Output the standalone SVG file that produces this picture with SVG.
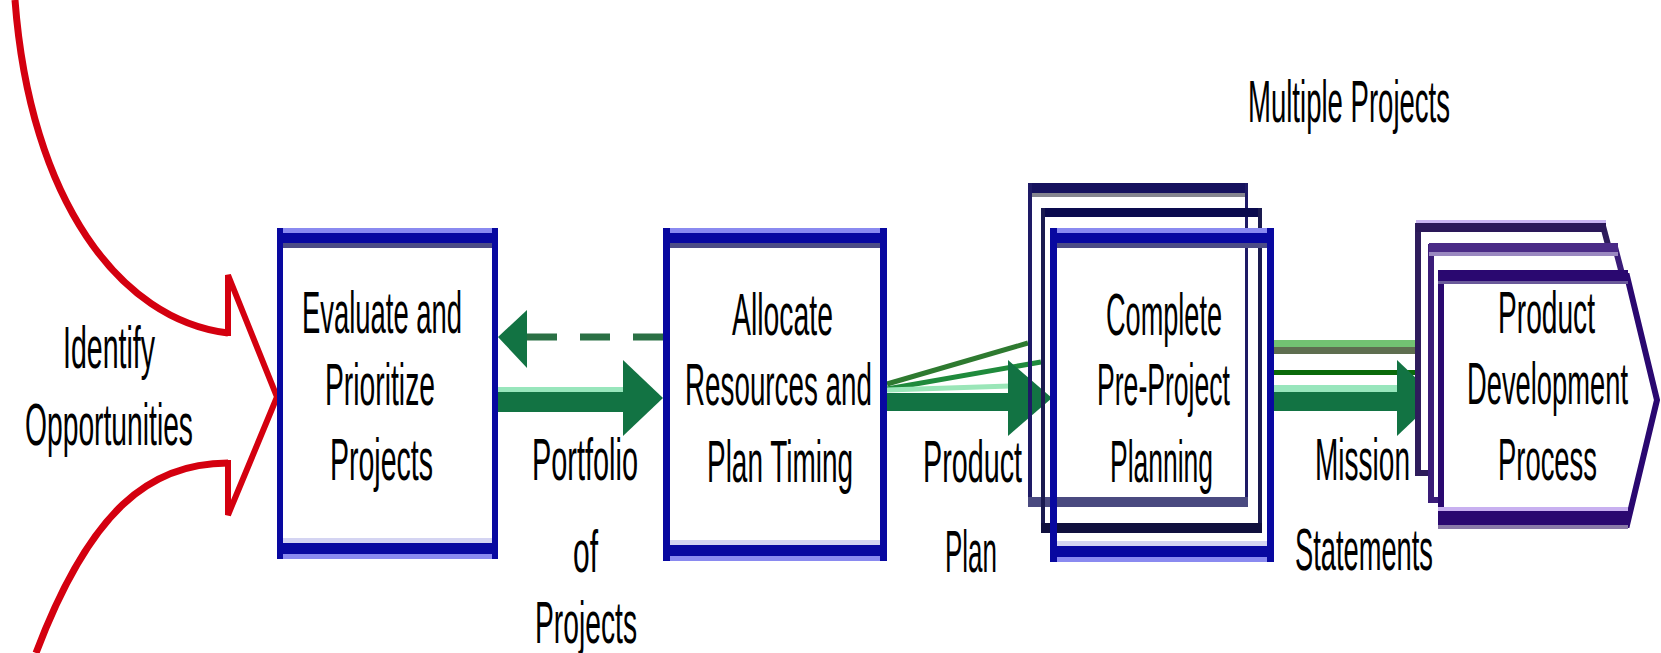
<svg xmlns="http://www.w3.org/2000/svg" width="1661" height="653" viewBox="0 0 1661 653">
<style>
.t{font-family:"Liberation Sans",Arial,sans-serif;font-size:60px;fill:#000;}
.red{fill:none;stroke:#d4000f;stroke-linejoin:miter;stroke-linecap:butt;}
.bd{fill:#0808a0;}
.bl{fill:#8a8af0;}
.bg{fill:#4c4c86;}
.bw{fill:#d4d4f2;}
.gd{fill:#127343;}
.gl{fill:#98e6bc;}
.pent{fill:#fff;stroke-width:6;stroke-linejoin:miter;}
</style>
<rect width="1661" height="653" fill="#fff"/>

<g id="identify">
  <path class="red" stroke-width="7" d="M15,0 C30,200 120,320 228,333"/>
  <path class="red" stroke-width="7" d="M228,463 C150,463 90,510 36,653"/>
  <path class="red" stroke-width="6" d="M228,336 L228,275 L277,397 L228,515 L228,460"/>
  <text class="t" x="63" y="368" textLength="92" lengthAdjust="spacingAndGlyphs">Identify</text>
  <text class="t" x="25" y="445" textLength="168" lengthAdjust="spacingAndGlyphs">Opportunities</text>
</g>

<g id="connectors">
  <!-- dashed feedback -->
  <line x1="527" y1="337" x2="663" y2="337" stroke="#2a7044" stroke-width="7" stroke-dasharray="30 23"/>
  <polygon points="527,310 498,337 527,368" class="gd"/>
  <!-- portfolio arrow -->
  <rect x="498" y="387" width="127" height="5" class="gl"/>
  <rect x="498" y="392" width="127" height="20" class="gd"/>
  <polygon points="623,360 663,398 623,436" class="gd"/>
  <!-- product plan fan -->
  <line x1="887" y1="384" x2="1028" y2="343" stroke="#2e7a30" stroke-width="5"/>
  <line x1="887" y1="389" x2="1041" y2="362" stroke="#1f8a3c" stroke-width="5"/>
  <line x1="887" y1="390" x2="1010" y2="386" stroke="#9ae6b8" stroke-width="5"/>
  <rect x="887" y="393" width="125" height="18" class="gd"/>
  <polygon points="1008,360 1052,398 1008,436" class="gd"/>
  <!-- mission statements -->
  <rect x="1272" y="340" width="144" height="7" fill="#72c272"/>
  <rect x="1272" y="347" width="144" height="7" fill="#5e6e50"/>
  <rect x="1272" y="370" width="157" height="5" fill="#0a6a0a"/>
  <rect x="1272" y="385" width="130" height="7" class="gl"/>
  <rect x="1272" y="392" width="130" height="19" class="gd"/>
  <polygon points="1397,360 1437,398 1397,436" class="gd"/>
</g>

<g id="evaluate">
  <rect x="277" y="228" width="221" height="5" class="bl"/>
  <rect x="277" y="233" width="221" height="10" class="bd"/>
  <rect x="277" y="243" width="221" height="5" class="bg"/>
  <rect x="277" y="538" width="221" height="5" class="bw"/>
  <rect x="277" y="543" width="221" height="11" class="bd"/>
  <rect x="277" y="554" width="221" height="5" class="bl"/>
  <rect x="277" y="228" width="6" height="331" class="bd"/>
  <rect x="492" y="228" width="6" height="331" class="bd"/>
  <text class="t" x="302" y="333" textLength="160" lengthAdjust="spacingAndGlyphs">Evaluate and</text>
  <text class="t" x="325" y="405" textLength="110" lengthAdjust="spacingAndGlyphs">Prioritize</text>
  <text class="t" x="330" y="480" textLength="103" lengthAdjust="spacingAndGlyphs">Projects</text>
</g>

<g id="label-portfolio">
  <text class="t" x="532" y="480" textLength="106" lengthAdjust="spacingAndGlyphs">Portfolio</text>
  <text class="t" x="573" y="572" textLength="25" lengthAdjust="spacingAndGlyphs">of</text>
  <text class="t" x="535" y="643" textLength="102" lengthAdjust="spacingAndGlyphs">Projects</text>
</g>

<g id="allocate">
  <rect x="663" y="228" width="224" height="5" class="bl"/>
  <rect x="663" y="233" width="224" height="10" class="bd"/>
  <rect x="663" y="243" width="224" height="5" class="bg"/>
  <rect x="663" y="540" width="224" height="5" class="bw"/>
  <rect x="663" y="545" width="224" height="11" class="bd"/>
  <rect x="663" y="556" width="224" height="5" class="bl"/>
  <rect x="663" y="228" width="7" height="333" class="bd"/>
  <rect x="880" y="228" width="7" height="333" class="bd"/>
  <text class="t" x="732" y="335" textLength="101" lengthAdjust="spacingAndGlyphs">Allocate</text>
  <text class="t" x="685" y="405" textLength="187" lengthAdjust="spacingAndGlyphs">Resources and</text>
  <text class="t" x="707" y="482" textLength="146" lengthAdjust="spacingAndGlyphs">Plan Timing</text>
</g>

<g id="label-product-plan">
  <text class="t" x="923" y="482" textLength="99" lengthAdjust="spacingAndGlyphs">Product</text>
  <text class="t" x="945" y="572" textLength="52" lengthAdjust="spacingAndGlyphs">Plan</text>
</g>

<g id="label-multiple">
  <text class="t" x="1248" y="122" textLength="202" lengthAdjust="spacingAndGlyphs">Multiple Projects</text>
</g>

<g id="preproject">
  <!-- back box -->
  <rect x="1028" y="183" width="220" height="10" fill="#16125e"/>
  <rect x="1028" y="193" width="220" height="4" fill="#85858f"/>
  <rect x="1028" y="183" width="4" height="324" fill="#1e1a66"/>
  <rect x="1245" y="183" width="3" height="324" fill="#1e1a66"/>
  <rect x="1028" y="497" width="220" height="10" fill="#4a4a80"/>
  <!-- middle box -->
  <rect x="1041" y="208" width="221" height="9" fill="#0a0a4e"/>
  <rect x="1041" y="208" width="4" height="325" fill="#1a1a50"/>
  <rect x="1258" y="208" width="4" height="325" fill="#1a1a50"/>
  <rect x="1041" y="523" width="221" height="10" fill="#10103e"/>
  <!-- front box -->
  <rect x="1050" y="228" width="224" height="5" class="bl"/>
  <rect x="1050" y="233" width="224" height="10" class="bd"/>
  <rect x="1050" y="243" width="224" height="5" class="bg"/>
  <rect x="1050" y="541" width="224" height="5" class="bw"/>
  <rect x="1050" y="546" width="224" height="11" class="bd"/>
  <rect x="1050" y="557" width="224" height="5" class="bl"/>
  <rect x="1050" y="228" width="7" height="334" class="bd"/>
  <rect x="1267" y="228" width="7" height="334" class="bd"/>
  <text class="t" x="1106" y="335" textLength="116" lengthAdjust="spacingAndGlyphs">Complete</text>
  <text class="t" x="1097" y="405" textLength="133" lengthAdjust="spacingAndGlyphs">Pre-Project</text>
  <text class="t" x="1110" y="482" textLength="103" lengthAdjust="spacingAndGlyphs">Planning</text>
</g>

<g id="label-mission">
  <text class="t" x="1315" y="480" textLength="95" lengthAdjust="spacingAndGlyphs">Mission</text>
  <text class="t" x="1295" y="570" textLength="138" lengthAdjust="spacingAndGlyphs">Statements</text>
</g>

<g id="development">
  <polygon class="pent" stroke="#2e1c5c" points="1418,226 1603,226 1636,350 1603,473 1418,473"/>
  <rect x="1416" y="220" width="190" height="3" fill="#c8b4f0"/>
  <rect x="1416" y="223" width="190" height="9" fill="#2a1858"/>
  <polygon class="pent" stroke="#3a1c78" points="1431,247 1615,247 1648,373 1615,500 1431,500"/>
  <rect x="1429" y="243" width="189" height="9" fill="#4a2a86"/>
  <rect x="1429" y="252" width="189" height="4" fill="#9a88c0"/>
  <polygon class="pent" stroke="#2a0870" points="1441,276 1627,276 1657,400 1627,525 1441,525"/>
  <rect x="1438" y="270" width="190" height="11" fill="#2a0870"/>
  <rect x="1438" y="281" width="190" height="3" fill="#6a5a9a"/>
  <rect x="1438" y="507" width="190" height="4" fill="#c8b0f0"/>
  <rect x="1438" y="511" width="190" height="14" fill="#2a0870"/>
  <rect x="1438" y="525" width="190" height="4" fill="#8a7aa8"/>
  <text class="t" x="1498" y="333" textLength="97" lengthAdjust="spacingAndGlyphs">Product</text>
  <text class="t" x="1467" y="404" textLength="161" lengthAdjust="spacingAndGlyphs">Development</text>
  <text class="t" x="1498" y="480" textLength="99" lengthAdjust="spacingAndGlyphs">Process</text>
</g>
</svg>
